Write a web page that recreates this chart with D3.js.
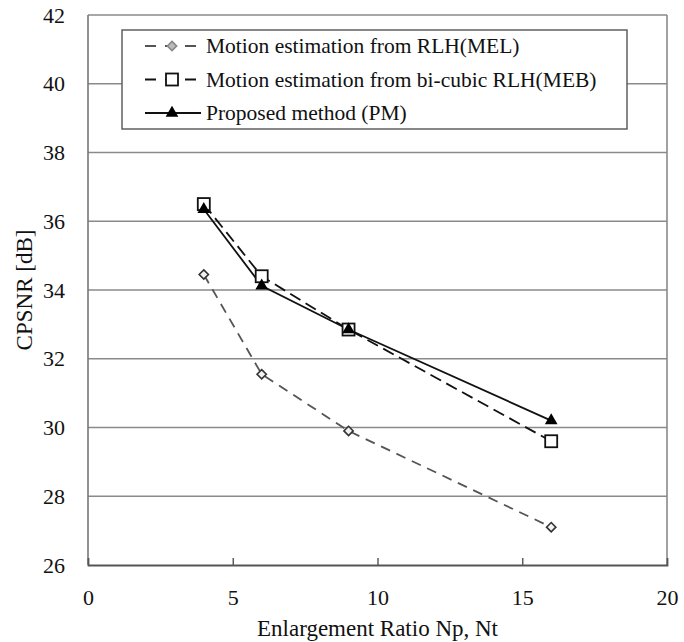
<!DOCTYPE html>
<html>
<head>
<meta charset="utf-8">
<script src="https://cdn.jsdelivr.net/npm/d3@7"></script>
<style>
  html, body { margin: 0; padding: 0; background: #fff; }
  svg { display: block; font-family: "Liberation Serif", "Times New Roman", serif; }
</style>
</head>
<body>
<svg id="chart" width="684" height="642"></svg>
<script>
// Enlargement ratios and CPSNR results for each method
const ratios = [4, 6, 9, 16];
const melValues = [34.45, 31.55, 29.9, 27.1];
const mebValues = [36.5, 34.4, 32.85, 29.6];
const pmValues = [36.35, 34.12, 32.85, 30.2];
const seriesNames = [
  "Motion estimation from RLH(MEL)",
  "Motion estimation from bi-cubic RLH(MEB)",
  "Proposed method (PM)"
];
const xTicks = [0, 5, 10, 15, 20];
const yTicks = [26, 28, 30, 32, 34, 36, 38, 40, 42];

const svg = d3.select("#chart");
const margin = { left: 88, right: 17, top: 15, bottom: 77 };
const W = 684, H = 642;
const textColor = "#111";

const x = d3.scaleLinear().domain([0, 20]).range([margin.left, W - margin.right]);
const y = d3.scaleLinear().domain([26, 42]).range([H - margin.bottom, margin.top]);

// horizontal gridlines
svg.append("g").selectAll("line").data(yTicks.filter(v => v > 26)).join("line")
  .attr("x1", x(0)).attr("x2", x(20))
  .attr("y1", d => y(d)).attr("y2", d => y(d))
  .attr("stroke", "#8a8a8a").attr("stroke-width", 1.6);

// frame: left, right
svg.append("line").attr("x1", x(0)).attr("x2", x(0)).attr("y1", y(42)).attr("y2", y(26))
  .attr("stroke", "#777").attr("stroke-width", 1.6);
svg.append("line").attr("x1", x(20)).attr("x2", x(20)).attr("y1", y(42)).attr("y2", y(26))
  .attr("stroke", "#8a8a8a").attr("stroke-width", 1.6);

// bottom axis with inward ticks
const xAxis = d3.axisBottom(x).tickValues(xTicks).tickSize(-7).tickPadding(24).tickFormat(d3.format("d"));
const gx = svg.append("g").attr("transform", `translate(0,${y(26)})`).call(xAxis);
gx.select(".domain").attr("stroke", "#555").attr("stroke-width", 1.8);
gx.selectAll(".tick line").attr("stroke", "#555").attr("stroke-width", 1.4)
  .filter(d => d === 0 || d === 20).remove();
gx.selectAll(".tick text").attr("font-size", 22).attr("fill", textColor)
  .attr("font-family", "Liberation Serif, serif");

// left axis labels
const yAxis = d3.axisLeft(y).tickValues(yTicks).tickSize(0).tickPadding(23).tickFormat(d3.format("d"));
const gy = svg.append("g").attr("transform", `translate(${x(0)},0)`).call(yAxis);
gy.select(".domain").remove();
gy.selectAll(".tick text").attr("font-size", 22).attr("fill", textColor)
  .attr("font-family", "Liberation Serif, serif");

// axis titles
svg.append("text").attr("x", (x(0) + x(20)) / 2).attr("y", 636)
  .attr("text-anchor", "middle").attr("font-size", 23).attr("fill", textColor)
  .text("Enlargement Ratio Np, Nt");
svg.append("text")
  .attr("transform", `translate(32,${(y(26) + y(42)) / 2}) rotate(-90)`)
  .attr("text-anchor", "middle").attr("font-size", 23).attr("fill", textColor)
  .text("CPSNR [dB]");

const line = d3.line().x(d => x(d[0])).y(d => y(d[1]));
const pts = vals => ratios.map((r, i) => [r, vals[i]]);

// series styles
const series = [
  { name: seriesNames[0], data: pts(melValues), stroke: "#555", dash: "10,7", width: 1.8, marker: "diamond" },
  { name: seriesNames[1], data: pts(mebValues), stroke: "#111", dash: "12,6", width: 1.8, marker: "square" },
  { name: seriesNames[2], data: pts(pmValues), stroke: "#111", dash: null, width: 1.8, marker: "triangle" }
];

function drawMarker(g, type, cx, cy, legend) {
  if (type === "diamond") {
    g.append("path").attr("d", d3.symbol(d3.symbolDiamond2, 55)())
      .attr("transform", `translate(${cx},${cy})`)
      .attr("fill", legend ? "#bbb" : "#f2f2f2").attr("stroke", legend ? "#888" : "#333").attr("stroke-width", 1.6);
  } else if (type === "square") {
    g.append("rect").attr("x", cx - 6).attr("y", cy - 6).attr("width", 12).attr("height", 12)
      .attr("fill", "#fff").attr("stroke", "#111").attr("stroke-width", 1.8);
  } else {
    g.append("path").attr("d", d3.symbol(d3.symbolTriangle, 70)())
      .attr("transform", `translate(${cx},${cy})`)
      .attr("fill", "#000");
  }
}

// draw lines, then markers
series.forEach(s => {
  svg.append("path").datum(s.data).attr("d", line)
    .attr("fill", "none").attr("stroke", s.stroke).attr("stroke-width", s.width)
    .attr("stroke-dasharray", s.dash);
});
series.forEach(s => {
  const g = svg.append("g");
  s.data.forEach(d => drawMarker(g, s.marker, x(d[0]), y(d[1]), false));
});

// legend
const lg = svg.append("g");
lg.append("rect").attr("x", 122).attr("y", 30).attr("width", 505).attr("height", 99)
  .attr("fill", "#fff").attr("stroke", "#555").attr("stroke-width", 1.4);
series.forEach((s, i) => {
  const cy = 46 + i * 33.5;
  lg.append("line").attr("x1", 145).attr("x2", 201).attr("y1", cy).attr("y2", cy)
    .attr("stroke", s.stroke).attr("stroke-width", 1.8)
    .attr("stroke-dasharray", s.dash ? "11,9" : null);
  drawMarker(lg, s.marker, 172, cy, true);
  lg.append("text").attr("x", 206).attr("y", cy + 7).attr("font-size", 21.5).attr("fill", textColor)
    .text(s.name);
});
</script>
</body>
</html>
